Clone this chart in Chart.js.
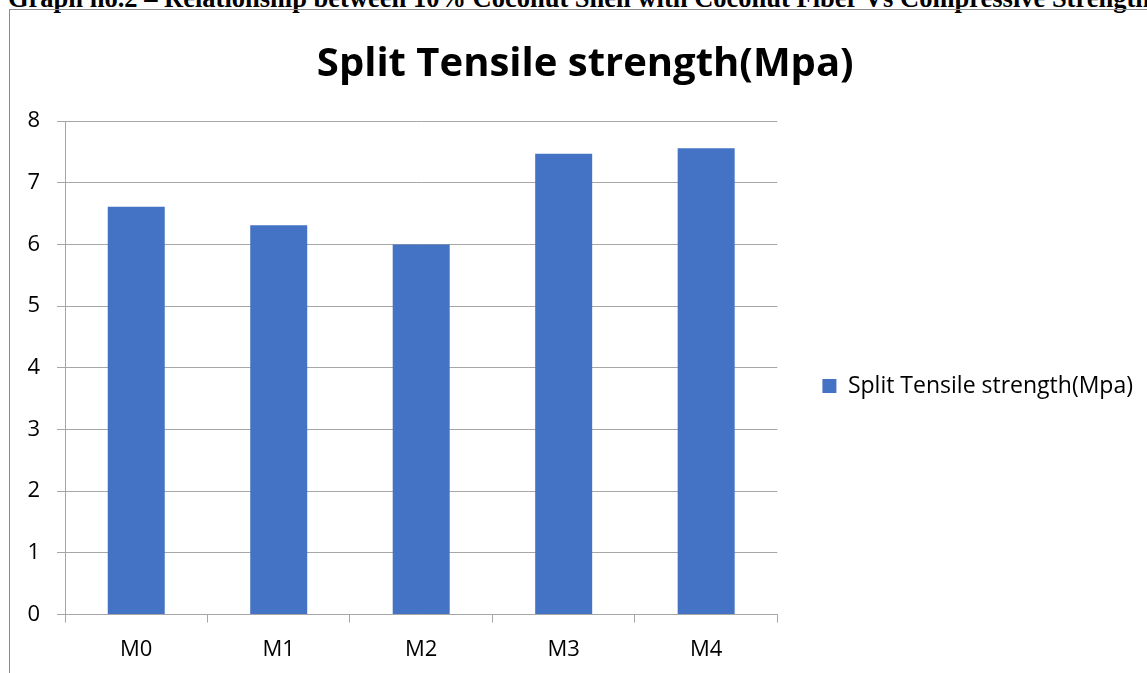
<!DOCTYPE html>
<html>
<head>
<meta charset="utf-8">
<script src="https://cdn.jsdelivr.net/npm/chart.js@4"></script>
<style>
  html,body{margin:0;padding:0;background:#fff;width:1147px;height:673px;overflow:hidden;position:relative;}
  #hdr{position:absolute;left:8px;top:-15px;line-height:26px;font-family:"Liberation Serif","Times New Roman",serif;font-weight:bold;font-size:26.5px;white-space:nowrap;color:#000;}
  #wrap{position:absolute;left:11px;top:10px;width:1136px;height:677px;}
  #frame{position:absolute;left:9px;top:9px;width:1200px;height:700px;border-left:1px solid #8c8c8c;border-top:1px solid #8c8c8c;pointer-events:none;}
</style>
</head>
<body>
<div id="hdr">Graph no.2 – Relationship between 10% Coconut Shell with Coconut Fiber Vs Compressive Strength</div>
<div id="wrap"><canvas id="c"></canvas></div>
<div id="frame"></div>
<script>
const categories = ["M0", "M1", "M2", "M3", "M4"];
const seriesName = "Split Tensile strength(Mpa)";
const splitTensile = [6.61, 6.31, 6.0, 7.47, 7.56];
const chartTitle = "Split Tensile strength(Mpa)";

const FONT = "'Open Sans', 'Noto Sans', sans-serif";

// place the legend's vertical centre like the reference (slightly below the middle)
const legendShift = {
  id: 'legendShift',
  afterLayout(chart) {
    const lg = chart.legend;
    if (!lg) return;
    const target = 376;
    const d = target - (lg.top + lg.bottom) / 2;
    lg.top += d; lg.bottom += d;
  }
};

new Chart(document.getElementById('c'), {
  type: 'bar',
  data: {
    labels: categories,
    datasets: [{
      label: seriesName,
      data: splitTensile,
      backgroundColor: '#4472C4',
      borderWidth: 0,
      barPercentage: 0.4,
      categoryPercentage: 1.0
    }]
  },
  plugins: [legendShift],
  options: {
    responsive: true,
    maintainAspectRatio: false,
    animation: false,
    devicePixelRatio: 1,
    layout: { padding: { left: 16.5, right: 4, top: 0, bottom: 10 } },
    plugins: {
      title: {
        display: true,
        text: chartTitle,
        color: '#000',
        font: { family: FONT, size: 40, weight: 'bold' },
        padding: { top: 31, bottom: 32 }
      },
      legend: {
        position: 'right',
        maxWidth: 500,
        labels: {
          color: '#000',
          boxWidth: 14,
          boxHeight: 14,
          padding: 45,
          font: { family: FONT, size: 23 }
        }
      },
      tooltip: { enabled: false }
    },
    scales: {
      y: {
        min: 0, max: 8,
        ticks: { stepSize: 1, color: '#000', font: { family: FONT, size: 22 }, padding: 17 },
        grid: { color: '#a6a6a6', lineWidth: 1, tickLength: 8 },
        border: { color: '#a6a6a6' },
        afterFit: function (s) { s.width = 37.5; }
      },
      x: {
        offset: true,
        ticks: { color: '#000', font: { family: FONT, size: 22 }, padding: 14 },
        grid: { drawOnChartArea: false, offset: true, color: '#a6a6a6', tickLength: 8 },
        border: { color: '#a6a6a6' }
      }
    }
  }
});
</script>
</body>
</html>
